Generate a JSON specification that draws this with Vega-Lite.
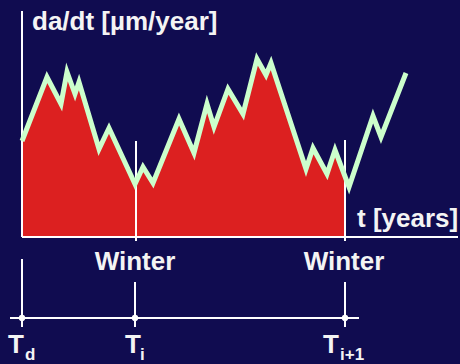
{
  "$schema": "https://vega.github.io/schema/vega-lite/v6.json",
  "width": 460,
  "height": 364,
  "padding": 0,
  "autosize": {"type": "fit", "contains": "padding"},
  "background": "#100c50",
  "config": {"view": {"stroke": null}},
  "datasets": {
    "curve": [
      {"t": 0, "v": 96}, {"t": 25, "v": 160}, {"t": 39, "v": 133}, {"t": 45, "v": 165},
      {"t": 53, "v": 143}, {"t": 57, "v": 155}, {"t": 77, "v": 88}, {"t": 87, "v": 109},
      {"t": 113, "v": 53}, {"t": 121, "v": 70}, {"t": 131, "v": 54}, {"t": 157, "v": 118},
      {"t": 172, "v": 84}, {"t": 185, "v": 133}, {"t": 192, "v": 110}, {"t": 206, "v": 148},
      {"t": 221, "v": 123}, {"t": 235, "v": 178}, {"t": 244, "v": 162}, {"t": 249, "v": 174},
      {"t": 284, "v": 68}, {"t": 291, "v": 89}, {"t": 305, "v": 63}, {"t": 313, "v": 87},
      {"t": 327, "v": 50}, {"t": 351, "v": 121}, {"t": 359, "v": 100}, {"t": 384, "v": 164}
    ],
    "area": [
      {"t": 0, "v": 96}, {"t": 25, "v": 160}, {"t": 39, "v": 133}, {"t": 45, "v": 165},
      {"t": 53, "v": 143}, {"t": 57, "v": 155}, {"t": 77, "v": 88}, {"t": 87, "v": 109},
      {"t": 113, "v": 53}, {"t": 121, "v": 70}, {"t": 131, "v": 54}, {"t": 157, "v": 118},
      {"t": 172, "v": 84}, {"t": 185, "v": 133}, {"t": 192, "v": 110}, {"t": 206, "v": 148},
      {"t": 221, "v": 123}, {"t": 235, "v": 178}, {"t": 244, "v": 162}, {"t": 249, "v": 174},
      {"t": 284, "v": 68}, {"t": 291, "v": 89}, {"t": 305, "v": 63}, {"t": 313, "v": 87},
      {"t": 323, "v": 61}
    ],
    "lines": [
      {"t": 0, "v": 226, "t2": 0, "v2": 0},
      {"t": 0, "v": 0, "t2": 436, "v2": 0},
      {"t": 114, "v": 96, "t2": 114, "v2": -4},
      {"t": 323, "v": 97, "t2": 323, "v2": -4},
      {"t": -12, "v": -81, "t2": 337, "v2": -81},
      {"t": 0, "v": -22, "t2": 0, "v2": -90},
      {"t": 113, "v": -45, "t2": 113, "v2": -90},
      {"t": 323, "v": -45, "t2": 323, "v2": -90}
    ],
    "dots": [{"t": 0, "v": -81}, {"t": 113, "v": -81}, {"t": 323, "v": -81}],
    "titles": [
      {"t": 10, "v": 207, "label": "da/dt [µm/year]"},
      {"t": 335, "v": 10, "label": "t [years]"},
      {"t": -14, "v": -116, "label": "T"},
      {"t": 103, "v": -116, "label": "T"},
      {"t": 301, "v": -116, "label": "T"}
    ],
    "winters": [
      {"t": 113, "v": -33, "label": "Winter"},
      {"t": 322, "v": -33, "label": "Winter"}
    ],
    "subs": [
      {"t": 3, "v": -123, "label": "d"},
      {"t": 118, "v": -123, "label": "i"},
      {"t": 318, "v": -123, "label": "i+1"}
    ]
  },
  "encoding": {
    "x": {"field": "t", "type": "quantitative", "axis": null, "scale": {"domain": [-22, 438], "nice": false, "zero": false}},
    "y": {"field": "v", "type": "quantitative", "axis": null, "scale": {"domain": [-127, 237], "nice": false, "zero": false}}
  },
  "layer": [
    {
      "data": {"name": "area"},
      "mark": {"type": "area", "color": "#dc2020"},
      "encoding": {"y2": {"datum": 0}}
    },
    {
      "data": {"name": "lines"},
      "mark": {"type": "rule", "color": "#ffffff", "strokeWidth": 2},
      "encoding": {"x2": {"field": "t2"}, "y2": {"field": "v2"}}
    },
    {
      "data": {"name": "curve"},
      "mark": {"type": "line", "color": "#ccffcc", "strokeWidth": 5, "strokeJoin": "miter"},
      "encoding": {}
    },
    {
      "data": {"name": "dots"},
      "mark": {"type": "circle", "color": "#ffffff", "opacity": 1, "size": 40},
      "encoding": {}
    },
    {
      "data": {"name": "titles"},
      "mark": {"type": "text", "align": "left", "baseline": "alphabetic", "font": "Liberation Sans", "fontWeight": "bold", "fontSize": 26, "color": "#f4f4f4"},
      "encoding": {"text": {"field": "label"}}
    },
    {
      "data": {"name": "winters"},
      "mark": {"type": "text", "align": "center", "baseline": "alphabetic", "font": "Liberation Sans", "fontWeight": "bold", "fontSize": 26, "color": "#f4f4f4"},
      "encoding": {"text": {"field": "label"}}
    },
    {
      "data": {"name": "subs"},
      "mark": {"type": "text", "align": "left", "baseline": "alphabetic", "font": "Liberation Sans", "fontWeight": "bold", "fontSize": 17, "color": "#f4f4f4"},
      "encoding": {"text": {"field": "label"}}
    }
  ]
}
